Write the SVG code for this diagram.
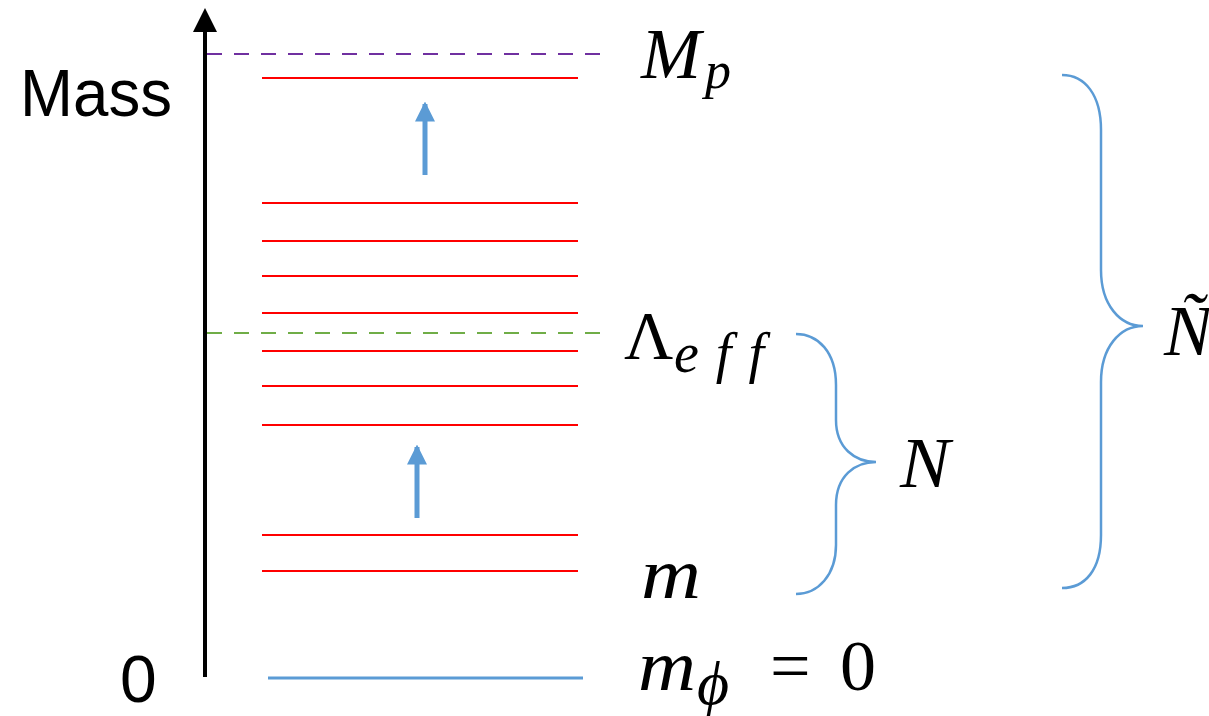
<svg xmlns="http://www.w3.org/2000/svg" width="1209" height="716" viewBox="0 0 1209 716">
<style>
.lvl{stroke:#FF0000;stroke-width:2;fill:none}
.dash{stroke-width:2;fill:none;stroke-dasharray:15 12}
.blue{stroke:#5B9BD5;fill:none}
.ax{font-family:"Liberation Sans",Arial,sans-serif;fill:#000}
.m{font-family:"Liberation Serif","DejaVu Serif",serif;font-style:italic;fill:#000}
.u{font-family:"Liberation Serif","DejaVu Serif",serif;fill:#000}
</style>
<defs>
<marker id="ah" markerWidth="6" markerHeight="6" refX="5" refY="3" orient="auto" markerUnits="strokeWidth">
<path d="M0,0 L6,3 L0,6 Z" fill="#000"/>
</marker>
<marker id="bh" markerWidth="4" markerHeight="4" refX="3.5" refY="2" orient="auto" markerUnits="strokeWidth">
<path d="M0,0 L4,2 L0,4 Z" fill="#5B9BD5"/>
</marker>
</defs>
<rect width="1209" height="716" fill="#fff"/>
<g id="axis">
<line x1="205" y1="677" x2="205" y2="12" stroke="#000" stroke-width="4" marker-end="url(#ah)"/>
<text class="ax" x="20" y="116" font-size="66" textLength="152" lengthAdjust="spacingAndGlyphs">Mass</text>
<text class="ax" x="120" y="702" font-size="66">0</text>
</g>
<g id="levels">
<line class="dash" x1="207" y1="54" x2="607" y2="54" stroke="#7030A0"/>
<line class="dash" x1="207" y1="333" x2="607" y2="333" stroke="#70AD47"/>
<line class="lvl" x1="262" y1="78" x2="578" y2="78"/>
<line class="lvl" x1="262" y1="203" x2="578" y2="203"/>
<line class="lvl" x1="262" y1="241" x2="578" y2="241"/>
<line class="lvl" x1="262" y1="276" x2="578" y2="276"/>
<line class="lvl" x1="262" y1="313" x2="578" y2="313"/>
<line class="lvl" x1="262" y1="351" x2="578" y2="351"/>
<line class="lvl" x1="262" y1="386" x2="578" y2="386"/>
<line class="lvl" x1="262" y1="425" x2="578" y2="425"/>
<line class="lvl" x1="262" y1="535" x2="578" y2="535"/>
<line class="lvl" x1="262" y1="571" x2="578" y2="571"/>
<line class="blue" x1="268" y1="678" x2="583" y2="678" stroke-width="3"/>
</g>
<g id="connectors">
<line class="blue" x1="425" y1="175" x2="425" y2="104" stroke-width="5" marker-end="url(#bh)"/>
<line class="blue" x1="417" y1="518" x2="417" y2="447" stroke-width="5" marker-end="url(#bh)"/>
<path class="blue" stroke-width="2.5" d="M796,334 C818,334 836,352 836,385 L836,420 C836,448 855,462 876,462 C855,462 836,476 836,505 L836,545 C836,575 818,594 796,594"/>
<path class="blue" stroke-width="2.5" d="M1062,75 C1085,75 1101,95 1101,130 L1101,270 C1101,305 1120,326 1143,326 C1120,326 1101,347 1101,382 L1101,535 C1101,570 1085,588 1062,588"/>
</g>
<g id="labels">
<text class="m" x="641" y="78" font-size="72">M</text>
<text class="m" x="705" y="88" font-size="52">p</text>
<text class="u" x="624" y="358" font-size="68">Λ</text>
<text class="m" x="674" y="372" font-size="56" textLength="90">eff</text>
<text class="m" x="900" y="487" font-size="72" textLength="50" lengthAdjust="spacingAndGlyphs">N</text>
<text class="m" x="641" y="598" font-size="72" textLength="60" lengthAdjust="spacingAndGlyphs">m</text>
<text class="m" x="638" y="690" font-size="72" textLength="58" lengthAdjust="spacingAndGlyphs">m</text>
<text class="m" x="697" y="704" font-size="62">ϕ</text>
<text class="u" x="770" y="690" font-size="72">=</text>
<text class="u" x="840" y="690" font-size="72">0</text>
<text class="m" x="1164" y="355" font-size="72">Ñ</text>
</g>
</svg>
